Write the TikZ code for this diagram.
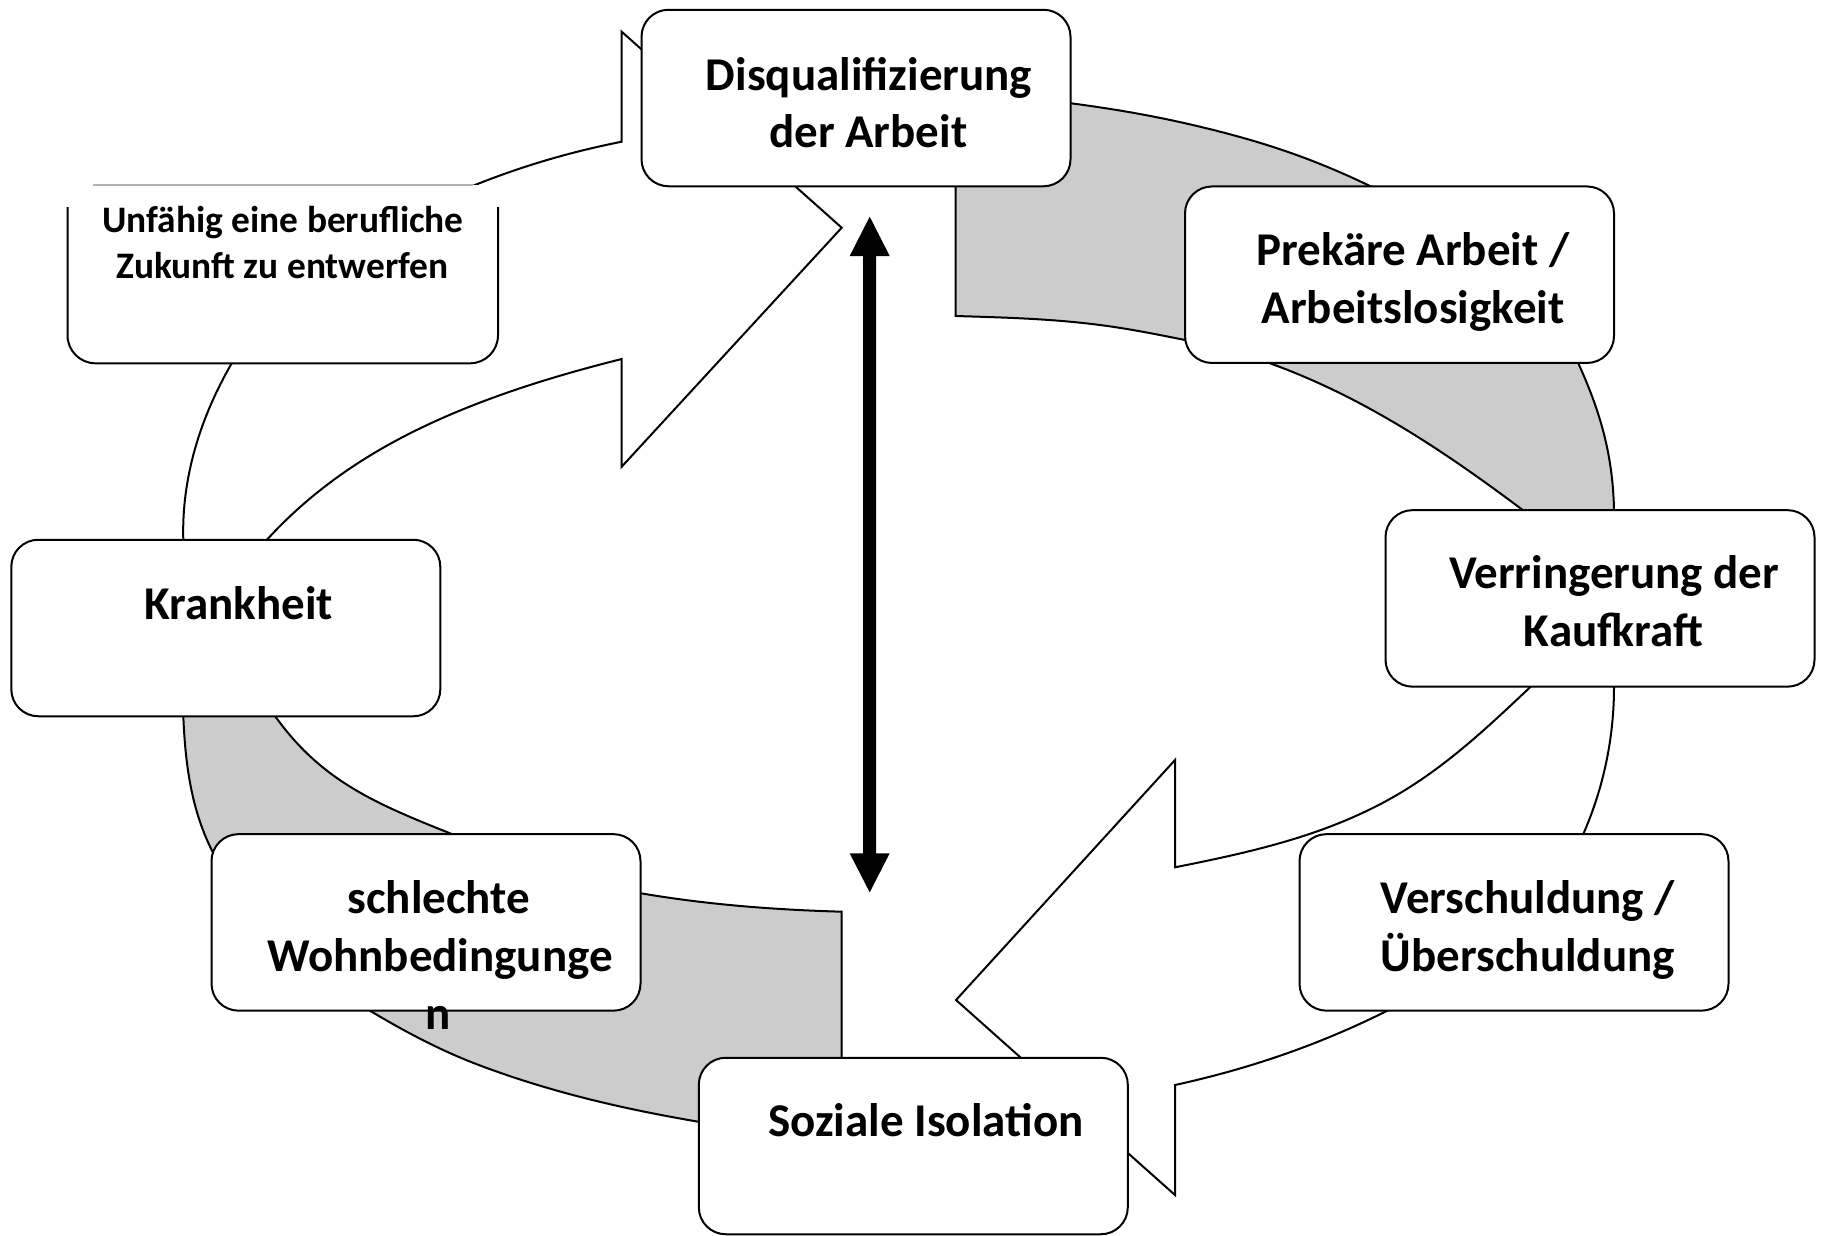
\documentclass[tikz,border=0pt]{standalone}
\usepackage{fontspec}
\setmainfont{Carlito}
\begin{document}
\begin{tikzpicture}[x=1pt,y=-1pt,
  box/.style={draw=black, line width=2pt, fill=white, rounded corners=27pt,
    minimum width=429pt, minimum height=176.5pt, inner sep=0pt},
  lbl/.style={font=\fontsize{47}{58}\selectfont\bfseries, anchor=base, inner sep=0pt},
  slbl/.style={font=\fontsize{37.4}{46}\selectfont\bfseries, anchor=base, inner sep=0pt},
  ring/.style={draw=black, line width=2pt, line join=miter},
  grayarrow/.style={ring, fill=gray!40},
  whitearrow/.style={ring, fill=white}]

\useasboundingbox (0,0) rectangle (1826,1235);

% gray arrow top-right
\filldraw[grayarrow] (955.7,316) -- (955.7,93)
  .. controls +(39,1.2) and +(-38.7,-5) .. (1071,103.3)
  .. controls +(44.2,5.8) and +(-43.4,-10.4) .. (1200,126.7)
  .. controls +(63.2,15.2) and +(-58.6,-28.1) .. (1370,186)
  .. controls +(83.9,40.3) and +(-38.5,-84.6) .. (1578.3,363.3)
  .. controls +(22.4,49.1) and +(-1.1,-54) .. (1614,510)
  -- (1615,580) -- (1560,580)
  .. controls +(-8.1,-25.7) and +(21.6,16.2) .. (1522.7,510)
  .. controls +(-79.2,-59.4) and +(93.2,33.6) .. (1270,363.3)
  .. controls +(-28.2,-10.2) and +(29.4,5.9) .. (1185,340)
  .. controls +(-28.4,-5.7) and +(28.8,3.7) .. (1100,325)
  .. controls +(-48.6,-6.3) and +(49,1.5) .. (955.7,316)
  -- cycle;

% gray arrow bottom-left
\filldraw[grayarrow] (841.7,911.7) -- (841.7,1134)
  .. controls +(-49,-2) and +(48.3,8.2) .. (698.3,1121.7)
  .. controls +(-74.4,-12.7) and +(70.8,26.2) .. (483.3,1066.7)
  .. controls +(-40.3,-14.9) and +(36.9,22.1) .. (370,1010.7)
  .. controls +(-65.7,-39.4) and +(34.3,68.6) .. (211.7,850)
  .. controls +(-20.8,-41.7) and +(1.9,46.6) .. (183.3,716)
  -- (182,684) -- (250,684)
  .. controls +(7.7,11.7) and +(-8.1,-11.4) .. (275,716)
  .. controls +(46.5,65.1) and +(-74.2,-29.7) .. (450,833.3)
  .. controls +(63.1,25.2) and +(-67,-11.4) .. (641,893.3)
  .. controls +(67,11.4) and +(-68,-2) .. (841.7,911.7)
  -- cycle;

% white arrow left (head at top)
\filldraw[whitearrow] (621.7,31.7) -- (841.7,227.7) -- (621.7,466.7) -- (621.7,359)
  .. controls +(-69.8,17.5) and +(64.7,-31.7) .. (416.7,430)
  .. controls +(-56.6,27.7) and +(42.4,-46.6) .. (266.7,540)
  -- (236.7,566.7) -- (182,566.7) -- (183.3,540)
  .. controls +(-1.9,-62.3) and +(-31.2,53.9) .. (231.7,363.3)
  .. controls +(52.8,-91.5) and +(-98,39.2) .. (475,185)
  .. controls +(48.3,-19.3) and +(-51,10.2) .. (621.7,141.7)
  -- cycle;

% white arrow right (head at bottom)
\filldraw[whitearrow] (1175,760) -- (956,1000) -- (1175,1195) -- (1175,1085)
  .. controls +(74.7,-16.4) and +(-68.4,34.2) .. (1387.3,1010.7)
  .. controls +(82.6,-41.3) and +(-37,84.7) .. (1583.3,834)
  .. controls +(20.4,-46.8) and +(0,51) .. (1614,686.7)
  -- (1615,650) -- (1560,650) -- (1530,687.3)
  .. controls +(-45,42.5) and +(54,-29.7) .. (1388,800)
  .. controls +(-66.6,36.6) and +(74.6,-14.9) .. (1175,867.3)
  -- cycle;

% black double arrow
\coordinate (dtop) at (869.7,216.7);
\coordinate (dbot) at (869.7,892.3);
\fill[black] (dtop) -- ++(20,39.3) -- ++(-13.5,0) -- (876.2,853.3) -- ++(13.5,0) -- (dbot)
  -- ++(-20,-39) -- ++(13.5,0) -- (863.2,256) -- ++(-13.5,0) -- cycle;

% boxes
\node[box] (b1) at (856,98) {};
\node[box] (b2) at (1399.5,274.7) {};
\node[box] (b3) at (1600,598.4) {};
\node[box] (b4) at (1514,922.4) {};
\node[box] (b5) at (913.3,1146) {};
\node[box] (b6) at (426,922.4) {};
\node[box] (b7) at (225.8,628) {};

% partly cut box (top-left)
\fill[white] (67.5,185) rectangle (498,300);
\fill[white, rounded corners=28pt] (67.5,250) rectangle (498,363.3);
\draw[line width=2pt, rounded corners=28pt] (67.5,207) -- (67.5,363.3) -- (498,363.3) -- (498,207);
\draw[gray!60, line width=1.2pt] (93,185) -- (473,185);

% texts
\node[lbl] (t1a) at (869,90) {Disqualifizierung};
\node[lbl] (t1b) at (868.3,147.5) {der Arbeit};
\node[lbl] (t2a) at (1413,265) {Prekäre Arbeit /};
\node[lbl] (t2b) at (1413,323.3) {Arbeitslosigkeit};
\node[lbl] (t3a) at (1614.2,588.3) {Verringerung der};
\node[lbl] (t3b) at (1613.5,646.7) {Kaufkraft};
\node[lbl] (t4a) at (1527.8,913.3) {Verschuldung /};
\node[lbl] (t4b) at (1527.8,971.7) {Überschuldung};
\node[lbl] (t5) at (925.8,1136.7) {Soziale Isolation};
\node[lbl] (t6a) at (438.8,913.3) {schlechte};
\node[lbl] (t6b) at (440,971.7) {Wohnbedingunge};
\node[lbl] (t6c) at (438.5,1029) {n};
\node[lbl] (t7) at (238.7,619) {Krankheit};
\node[slbl] (t8a) at (283,232) {Unfähig eine berufliche};
\node[slbl] (t8b) at (282.4,278.5) {Zukunft zu entwerfen};
\end{tikzpicture}
\end{document}
